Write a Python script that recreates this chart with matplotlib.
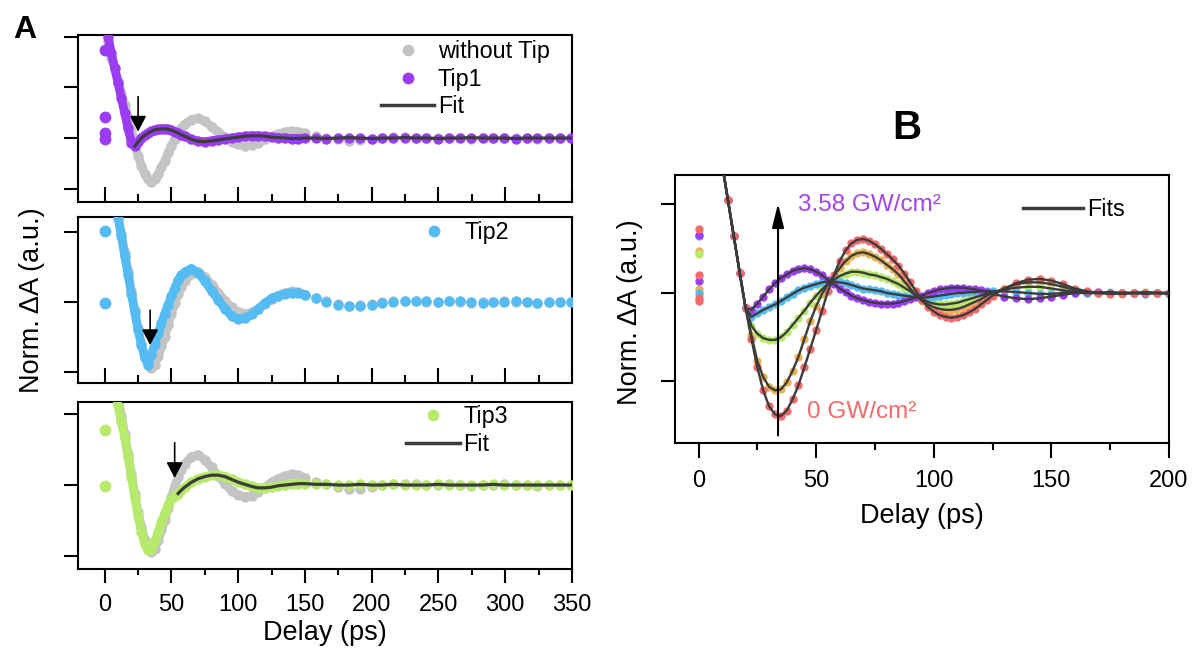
import numpy as np
import matplotlib.pyplot as plt
from matplotlib.lines import Line2D
from matplotlib.ticker import MultipleLocator

plt.rcParams['font.family'] = ['Liberation Sans', 'DejaVu Sans']
plt.rcParams['font.size'] = 17
plt.rcParams['axes.linewidth'] = 1.5

# ---------------- Panel A data (delay in ps, normalised dA) ----------------
delay_a = [2.5, 5, 7.5, 10, 12.5, 15, 17.5, 20, 22.5, 25, 27.5, 30,
           32.5, 35, 37.5, 40, 42.5, 45, 47.5, 50, 52.5, 55, 57.5, 60,
           65, 70, 75, 80, 85, 90, 95, 100, 105, 110, 115, 120, 125, 130,
           135, 140, 145, 150]
delay_a_tail = [158, 166, 175, 183, 191, 200, 208, 216, 225, 233, 241, 250,
                258, 266, 274, 283, 291, 299, 308, 316, 324, 333, 341, 349]

no_tip = [2.1, 1.75, 1.5, 1.25, 0.98, 0.72, 0.44, 0.16, -0.12, -0.38, -0.6, -0.78,
          -0.9, -0.95, -0.9, -0.78, -0.64, -0.5, -0.33, -0.17, -0.02, 0.12, 0.22, 0.3,
          0.4, 0.43, 0.36, 0.25, 0.13, 0.02, -0.08, -0.14, -0.17, -0.15, -0.1, -0.03,
          0.04, 0.09, 0.13, 0.15, 0.14, 0.1]
no_tip_tail = [0.05, 0.01, -0.03, -0.06, -0.05, -0.03, 0.0, 0.02, 0.02, 0.01, 0.0, 0.0,
               0.01, 0.0, -0.01, 0.0, 0.0, 0.01, 0.0, 0.0, -0.01, 0.0, 0.0, 0.0]

tip1 = [2.2, 1.84, 1.52, 1.2, 0.87, 0.54, 0.21, -0.1, -0.18, -0.08, 0.0, 0.06,
        0.11, 0.15, 0.18, 0.19, 0.2, 0.2, 0.19, 0.17, 0.14, 0.11, 0.07, 0.04,
        -0.03, -0.07, -0.08, -0.06, -0.04, -0.02, 0.0, 0.02, 0.04, 0.05, 0.05, 0.04,
        0.02, 0.01, 0.0, -0.01, -0.01, 0.0]
tip1_tail = [0.0, -0.01, 0.0, 0.01, 0.0, -0.01, 0.0, 0.0, 0.01, 0.0, 0.0, -0.01,
             0.0, 0.0, 0.01, 0.0, 0.0, 0.0, -0.01, 0.0, 0.0, 0.0, 0.0, 0.0]

tip2 = [2.2, 1.85, 1.5, 1.21, 0.94, 0.66, 0.39, 0.12, -0.15, -0.4, -0.62, -0.8,
        -0.9, -0.76, -0.6, -0.45, -0.31, -0.17, -0.04, 0.08, 0.2, 0.31, 0.38, 0.43,
        0.48, 0.42, 0.3, 0.16, 0.03, -0.1, -0.2, -0.25, -0.23, -0.18, -0.1, -0.02,
        0.05, 0.09, 0.12, 0.13, 0.13, 0.1]
tip2_tail = [0.05, 0.0, -0.04, -0.06, -0.06, -0.04, -0.02, 0.0, 0.01, 0.02, 0.01, 0.0,
             0.01, 0.01, 0.0, -0.01, 0.0, 0.0, 0.01, 0.0, -0.01, 0.0, 0.0, 0.0]

tip3 = [2.0, 1.7, 1.4, 1.12, 0.9, 0.67, 0.4, 0.12, -0.17, -0.44, -0.66, -0.83,
        -0.92, -0.9, -0.8, -0.67, -0.53, -0.4, -0.28, -0.2, -0.15, -0.12, -0.07, -0.03,
        0.04, 0.09, 0.12, 0.14, 0.14, 0.12, 0.08, 0.04, 0.01, -0.02, -0.04, -0.04,
        -0.03, -0.01, 0.0, 0.01, 0.02, 0.02]
tip3_tail = [0.01, 0.01, 0.0, 0.0, 0.01, 0.0, 0.0, 0.01, 0.0, 0.0, 0.0, 0.01,
             0.0, 0.0, 0.0, 0.0, 0.01, 0.0, 0.0, 0.0, 0.0, 0.0, 0.0, 0.0]

# points at zero delay
t0_tip1 = [1.91, 0.45, 0.12, -0.02]
t0_tip2 = [1.02, -0.02]
t0_tip3 = [0.78, -0.02]

# ---------------- Panel B data ----------------
delay_b = [7.5, 10, 12.5, 15, 17.5, 20, 22.5, 25, 27.5, 30, 32.5, 35,
           37.5, 40, 42.5, 45, 47.5, 50, 52.5, 55, 57.5, 60, 62.5, 65,
           67.5, 70, 72.5, 75, 77.5, 80, 82.5, 85, 87.5, 90, 92.5, 95,
           97.5, 100, 102.5, 105, 107.5, 110, 112.5, 115, 117.5, 120, 122.5, 125,
           130, 135, 140, 145, 150, 155, 160, 165, 170, 175, 180, 185, 190, 195, 200]

f0 = [1.85, 1.46, 1.05, 0.64, 0.23, -0.17, -0.52, -0.84, -1.1, -1.28, -1.37, -1.39,
      -1.33, -1.2, -1.04, -0.84, -0.63, -0.42, -0.2, 0.02, 0.2, 0.36, 0.48, 0.56,
      0.6, 0.61, 0.59, 0.55, 0.5, 0.44, 0.38, 0.31, 0.22, 0.12, 0.02, -0.08,
      -0.16, -0.21, -0.25, -0.27, -0.28, -0.27, -0.25, -0.22, -0.18, -0.13, -0.08, -0.03,
      0.05, 0.11, 0.15, 0.16, 0.14, 0.1, 0.05, 0.02, 0.0, -0.01, 0.0, 0.0, 0.0, 0.0, 0.0]
f1 = [1.85, 1.46, 1.05, 0.64, 0.23, -0.17, -0.48, -0.77, -0.95, -1.06, -1.1, -1.09,
      -1.01, -0.88, -0.72, -0.52, -0.32, -0.15, -0.01, 0.1, 0.19, 0.28, 0.36, 0.42,
      0.45, 0.46, 0.44, 0.41, 0.37, 0.32, 0.27, 0.21, 0.13, 0.05, -0.03, -0.09,
      -0.13, -0.16, -0.18, -0.19, -0.19, -0.18, -0.16, -0.13, -0.1, -0.07, -0.03, 0.0,
      0.05, 0.1, 0.12, 0.12, 0.1, 0.07, 0.03, 0.01, 0.0, 0.0, -0.01, 0.0, 0.0, 0.0, 0.0]
f2 = [1.85, 1.46, 1.05, 0.64, 0.23, -0.17, -0.37, -0.46, -0.51, -0.53, -0.53, -0.5,
      -0.44, -0.36, -0.28, -0.2, -0.11, -0.03, 0.04, 0.1, 0.15, 0.19, 0.22, 0.24,
      0.24, 0.23, 0.21, 0.2, 0.18, 0.16, 0.13, 0.1, 0.06, 0.02, -0.03, -0.07,
      -0.1, -0.12, -0.13, -0.13, -0.12, -0.11, -0.09, -0.07, -0.05, -0.03, -0.01, 0.01,
      0.04, 0.06, 0.07, 0.07, 0.05, 0.03, 0.01, 0.0, 0.0, 0.01, 0.0, 0.0, 0.01, 0.0, 0.0]
f3 = [1.85, 1.46, 1.05, 0.64, 0.23, -0.17, -0.27, -0.23, -0.19, -0.16, -0.13, -0.09,
      -0.05, -0.01, 0.03, 0.06, 0.08, 0.1, 0.12, 0.13, 0.13, 0.12, 0.11, 0.09,
      0.07, 0.05, 0.04, 0.03, 0.02, 0.0, -0.01, -0.02, -0.03, -0.04, -0.05, -0.05,
      -0.05, -0.04, -0.03, -0.02, -0.01, 0.0, 0.0, 0.01, 0.01, 0.02, 0.02, 0.02,
      0.02, 0.01, 0.0, -0.01, -0.01, 0.0, 0.0, 0.0, 0.0, 0.0, 0.0, 0.0, -0.01, 0.0, -0.01]
f4 = [1.85, 1.46, 1.05, 0.64, 0.23, -0.17, -0.19, -0.12, -0.04, 0.04, 0.11, 0.17,
      0.21, 0.25, 0.27, 0.28, 0.27, 0.24, 0.2, 0.15, 0.1, 0.05, 0.01, -0.03,
      -0.06, -0.08, -0.1, -0.11, -0.12, -0.12, -0.12, -0.11, -0.09, -0.07, -0.05, -0.03,
      0.0, 0.02, 0.04, 0.05, 0.06, 0.06, 0.06, 0.05, 0.04, 0.03, 0.01, -0.01,
      -0.04, -0.06, -0.07, -0.06, -0.04, -0.02, 0.0, 0.01, 0.01, 0.0, 0.0, 0.0, 0.0, 0.0, 0.0]
t0_b = [[0.72, 0.2, -0.06, -0.09], [0.47, 0.05], [0.44, -0.02], [0.64, 0.0], [0.66, 0.13]]

GRAY = '#c4c4c4'
PURPLE = '#9b3cf3'
BLUE = '#55bbf3'
GREEN = '#b7ea6c'
RED = '#f46a6a'
ORANGE = '#e9b453'
FIT = '#3c3c3c'
b_colors = [RED, ORANGE, GREEN, BLUE, PURPLE]

LABEL_SIZE = 19.5
LEGEND_SIZE = 16.8

W, H = 1194, 655
fig = plt.figure(figsize=(W / 100, H / 100), dpi=100)


def add_ax(x0, y0, x1, y1):
    return fig.add_axes([x0 / W, 1 - y1 / H, (x1 - x0) / W, (y1 - y0) / H])


def draw_trace(ax, d, v, dt, vt, color, z=2):
    ax.plot(d, v, color=color, lw=6.3, solid_joinstyle='round',
            solid_capstyle='round', zorder=z)
    ax.plot(d + dt, v + vt, 'o', color=color, ms=7.5, mec='none', zorder=z)


def style_a(ax, ylim, yticks, bottom):
    ax.set_xlim(-20, 350)
    ax.set_ylim(*ylim)
    ax.set_yticks(yticks)
    ax.xaxis.set_major_locator(MultipleLocator(50))
    ax.xaxis.set_minor_locator(MultipleLocator(25))
    ax.tick_params(axis='y', which='major', direction='out', length=10,
                   width=1.5, labelleft=False)
    if bottom:
        ax.tick_params(axis='x', which='major', direction='out', length=10,
                       width=1.5, pad=8)
        ax.tick_params(axis='x', which='minor', direction='out', length=4.5,
                       width=1.5)
    else:
        ax.tick_params(axis='x', which='major', direction='in', length=11,
                       width=1.5, labelbottom=False)
        ax.tick_params(axis='x', which='minor', direction='in', length=6,
                       width=1.5)


def arrow(ax, x, y0, y1, hl, hw, lw=1.2):
    ax.annotate('', xy=(x, y1), xytext=(x, y0),
                arrowprops=dict(arrowstyle=f'-|>,head_length={hl},head_width={hw}',
                                color='k', lw=lw, shrinkA=0, shrinkB=0,
                                mutation_scale=10), zorder=6)


def legend(ax, handles, labels, x, y, hl=2.3):
    ax.legend(handles, labels, loc='upper left', bbox_to_anchor=(x, y),
              frameon=False, handlelength=hl, handletextpad=0.15,
              labelspacing=0.2, borderpad=0, borderaxespad=0, fontsize=LEGEND_SIZE)


dot = lambda c: Line2D([], [], ls='none', marker='o', ms=8.5, color=c, mec='none')
fit_handle = Line2D([], [], color=FIT, lw=2.5)

da_all = np.array(delay_a + delay_a_tail)

# --- A, top: Tip1
ax1 = add_ax(78, 35, 572, 202)
draw_trace(ax1, delay_a, no_tip, delay_a_tail, no_tip_tail, GRAY, 2)
draw_trace(ax1, delay_a, tip1, delay_a_tail, tip1_tail, PURPLE, 3)
ax1.plot([0] * len(t0_tip1), t0_tip1, 'o', color=PURPLE, ms=8.5, mec='none')
tip1_all = np.array(tip1 + tip1_tail)
m = da_all >= 22.5
ax1.plot(da_all[m], tip1_all[m], color=FIT, lw=2.3, zorder=4)
arrow(ax1, 25, 0.9, 0.14, 0.95, 0.5)
style_a(ax1, (-1.39, 2.24), [-1.1, 0, 1.1, 2.2], False)
legend(ax1, [dot(GRAY), dot(PURPLE), fit_handle], ['without Tip', 'Tip1', 'Fit'],
       0.613, 0.97)

# --- A, middle: Tip2
ax2 = add_ax(78, 217, 572, 383)
draw_trace(ax2, delay_a, no_tip, delay_a_tail, no_tip_tail, GRAY, 2)
draw_trace(ax2, delay_a, tip2, delay_a_tail, tip2_tail, BLUE, 3)
ax2.plot([0] * len(t0_tip2), t0_tip2, 'o', color=BLUE, ms=8.5, mec='none')
arrow(ax2, 34, -0.12, -0.62, 0.95, 0.5)
style_a(ax2, (-1.165, 1.22), [-1, 0, 1], False)
legend(ax2, [dot(BLUE)], ['Tip2'], 0.666, 0.976)

# --- A, bottom: Tip3
ax3 = add_ax(78, 402, 572, 569)
draw_trace(ax3, delay_a, no_tip, delay_a_tail, no_tip_tail, GRAY, 2)
draw_trace(ax3, delay_a, tip3, delay_a_tail, tip3_tail, GREEN, 3)
ax3.plot([0] * len(t0_tip3), t0_tip3, 'o', color=GREEN, ms=8.5, mec='none')
tip3_all = np.array(tip3 + tip3_tail)
m = da_all >= 55
ax3.plot(da_all[m], tip3_all[m], color=FIT, lw=2.3, zorder=4)
arrow(ax3, 52.4, 0.6, 0.1, 0.95, 0.5)
style_a(ax3, (-1.19, 1.177), [-1, 0, 1], True)
ax3.set_xlabel('Delay (ps)', fontsize=LABEL_SIZE, labelpad=3)
legend(ax3, [dot(GREEN), fit_handle], ['Tip3', 'Fit'], 0.664, 0.982)

fig.text(32 / W, 1 - 300 / H, 'Norm. ΔA (a.u.)', rotation=90, ha='center',
         va='center', fontsize=LABEL_SIZE)
fig.text(25 / W, 1 - 30 / H, 'A', fontsize=23, fontweight='bold', ha='center', va='center')

# --- B: fluence series
axb = add_ax(675, 175, 1169, 443)
series_b = [f0, f1, f2, f3, f4]
order = [1, 2, 3, 4, 0]   # red drawn last
for i in order:
    axb.plot(delay_b, series_b[i], 'o', color=b_colors[i], ms=6, mec='none', zorder=2)
    axb.plot([0] * len(t0_b[i]), t0_b[i], 'o', color=b_colors[i], ms=6, mec='none', zorder=2)
for vals in series_b:
    axb.plot(delay_b, vals, color=FIT, lw=1.7, zorder=4)
arrow(axb, 33.8, -1.61, 1.01, 1.45, 0.36, lw=1.5)
axb.text(42.5, 0.99, '3.58 GW/cm²', color='#a244f2', fontsize=17.5, ha='left', va='center')
axb.text(46.3, -1.35, '0 GW/cm²', color=RED, fontsize=17.5, ha='left', va='center')
axb.set_xlim(-10, 200)
axb.set_ylim(-1.695, 1.333)
axb.set_yticks([-1, 0, 1])
axb.xaxis.set_major_locator(MultipleLocator(50))
axb.xaxis.set_minor_locator(MultipleLocator(25))
axb.tick_params(axis='y', direction='out', length=10, width=1.5, labelleft=False)
axb.tick_params(axis='x', which='major', direction='out', length=10.5, width=1.5, pad=9)
axb.tick_params(axis='x', which='minor', direction='out', length=5, width=1.5)
axb.set_xlabel('Delay (ps)', fontsize=LABEL_SIZE, labelpad=8)
legend(axb, [fit_handle], ['Fits'], 0.704, 0.914, hl=2.6)
fig.text(630 / W, 1 - 312 / H, 'Norm. ΔA (a.u.)', rotation=90, ha='center',
         va='center', fontsize=LABEL_SIZE)
fig.text(907 / W, 1 - 128 / H, 'B', fontsize=29, fontweight='bold', ha='center', va='center')

fig.savefig('out.png', dpi=100)
